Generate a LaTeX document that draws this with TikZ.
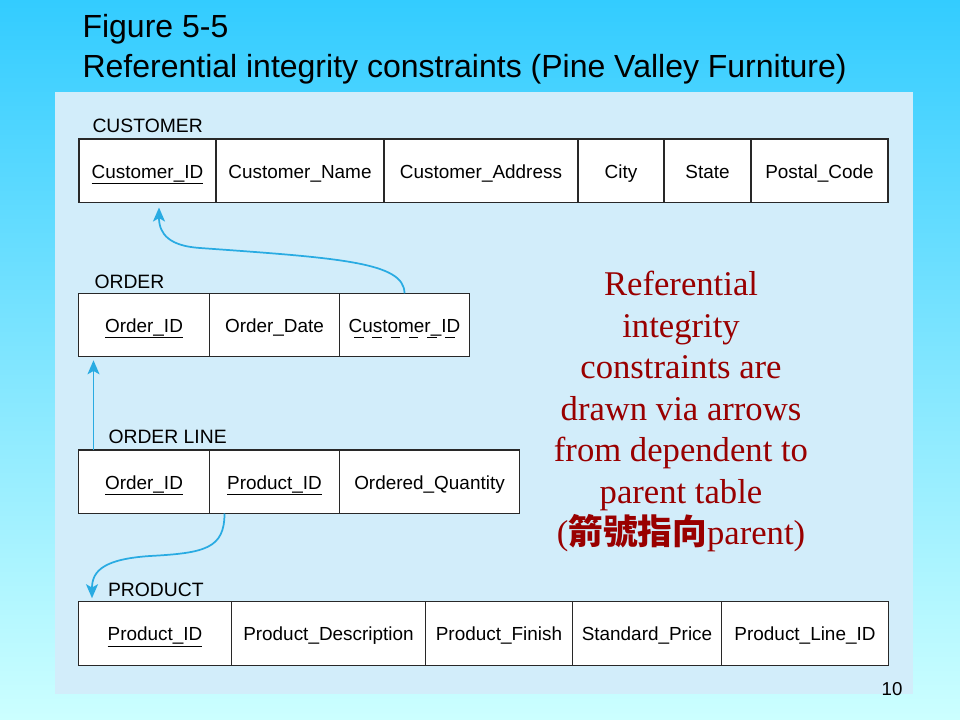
\documentclass[tikz,border=0pt]{standalone}
\usepackage{fontspec}
\setmainfont{Liberation Sans}
\newfontfamily\notefont{Liberation Serif}
\newfontfamily\cjkfont{Noto Sans CJK TC}
\usetikzlibrary{positioning,arrows.meta}

\definecolor{bgtop}{RGB}{51,204,255}
\definecolor{bgbot}{RGB}{204,255,255}
\definecolor{panel}{RGB}{210,237,250}
\definecolor{fkblue}{RGB}{41,171,226}
\definecolor{boxgray}{RGB}{40,40,40}
\definecolor{notered}{RGB}{153,0,0}

\newcommand\pxu{0.75pt}
% solid underline for keys, dashed for the foreign key
\newcommand\pkey[1]{\setbox0\hbox{#1}\rlap{\raisebox{-4.35pt}{\rule{\wd0}{0.75pt}}}\box0}
\newcommand\fkey[1]{\setbox0\hbox{#1}\rlap{\raisebox{-4.35pt}{\hbox to\wd0{\xleaders\hbox{\kern.18em\vrule width .5em height .75pt\kern.18em}\hfil}}}\box0}

\begin{document}
\begin{tikzpicture}[x=0.75pt, y=-0.75pt, thick,
    cell/.style = {draw=boxgray, line width=0.85pt, fill=white, inner sep=0pt, outer sep=0pt,
                   minimum height=63.5*\pxu, text height=12.75pt, text depth=1.5pt,
                   font=\fontsize{14.2}{16}\selectfont, anchor=north west},
    lbl/.style = {inner sep=0pt, anchor=base west, font=\fontsize{14.5}{16}\selectfont},
    fk/.style = {draw=fkblue, line width=1.3pt, -{Stealth[length=10.5pt, width=9pt, inset=2.5pt]}}]

    \shade[top color=bgtop, bottom color=bgbot] (0,0) rectangle (960,720);
    \useasboundingbox (0,0) rectangle (960,720);
    \fill[panel] (55,92) rectangle (913,694);

    \node[anchor=base west, inner sep=0pt, font=\fontsize{24}{28}\selectfont] (fig) at (82,38) {Figure 5-5};
    \node[anchor=base west, inner sep=0pt, font=\fontsize{24}{28}\selectfont] (cap) at (82,78) {Referential integrity constraints (Pine Valley Furniture)};

    % CUSTOMER
    \node[lbl] (custlbl) at (92,133) {CUSTOMER};
    \node[cell, minimum width=137*\pxu] (cust1) at (79,139) {\pkey{Customer\_ID}};
    \node[cell, minimum width=168*\pxu, right=0pt of cust1] (cust2) {Customer\_Name};
    \node[cell, minimum width=194*\pxu, right=0pt of cust2] (cust3) {Customer\_Address};
    \node[cell, minimum width=86*\pxu, right=0pt of cust3] (cust4) {City};
    \node[cell, minimum width=87*\pxu, right=0pt of cust4] (cust5) {State};
    \node[cell, minimum width=137*\pxu, right=0pt of cust5] (cust6) {Postal\_Code};

    % ORDER
    \node[lbl] (ordlbl) at (94,288) {ORDER};
    \node[cell, minimum width=131*\pxu] (ord1) at (78.5,293.3) {\pkey{Order\_ID}};
    \node[cell, minimum width=130*\pxu, right=0pt of ord1] (ord2) {Order\_Date};
    \node[cell, minimum width=130*\pxu, right=0pt of ord2] (ord3) {\fkey{Customer\_ID}};

    % ORDER LINE
    \node[lbl] (linelbl) at (108,443) {ORDER LINE};
    \node[cell, minimum width=131*\pxu] (line1) at (78.5,450) {\pkey{Order\_ID}};
    \node[cell, minimum width=130*\pxu, right=0pt of line1] (line2) {\pkey{Product\_ID}};
    \node[cell, minimum width=180*\pxu, right=0pt of line2] (line3) {Ordered\_Quantity};

    % PRODUCT
    \node[lbl] (prodlbl) at (107.5,596) {PRODUCT};
    \node[cell, minimum width=153*\pxu] (prod1) at (78.5,601.7) {\pkey{Product\_ID}};
    \node[cell, minimum width=194*\pxu, right=0pt of prod1] (prod2) {Product\_Description};
    \node[cell, minimum width=147*\pxu, right=0pt of prod2] (prod3) {Product\_Finish};
    \node[cell, minimum width=149*\pxu, right=0pt of prod3] (prod4) {Standard\_Price};
    \node[cell, minimum width=167*\pxu, right=0pt of prod4] (prod5) {Product\_Line\_ID};

    \node[inner sep=0pt, anchor=north, align=center, text=notered,
          font=\notefont\fontsize{26}{31.1}\selectfont] (note) at (681,271)
          {Referential\\integrity\\constraints are\\drawn via arrows\\from dependent to\\parent table\\({\cjkfont\bfseries 箭號指向}parent)};

    \node[anchor=base, inner sep=0pt, font=\fontsize{14}{16}\selectfont] (pagenum) at (892,695) {10};

    \draw[fk] (ord3.north) .. controls +(0,-31) and +(140,10) .. (200,248)
              .. controls +(-30,-2) and +(0,27) .. ([xshift=11.5*\pxu, yshift=-5*\pxu]cust1.south);
    \draw[fk] ([xshift=15*\pxu]line1.north west) -- ([xshift=15*\pxu, yshift=-3.5*\pxu]ord1.south west);
    \draw[fk] ([xshift=-50*\pxu]line2.south) .. controls +(0,35) and +(55,-3) .. (150,556)
              .. controls +(-45,3) and +(0,-28) .. ([xshift=13.5*\pxu, yshift=3.5*\pxu]prod1.north west);
\end{tikzpicture}
\end{document}
